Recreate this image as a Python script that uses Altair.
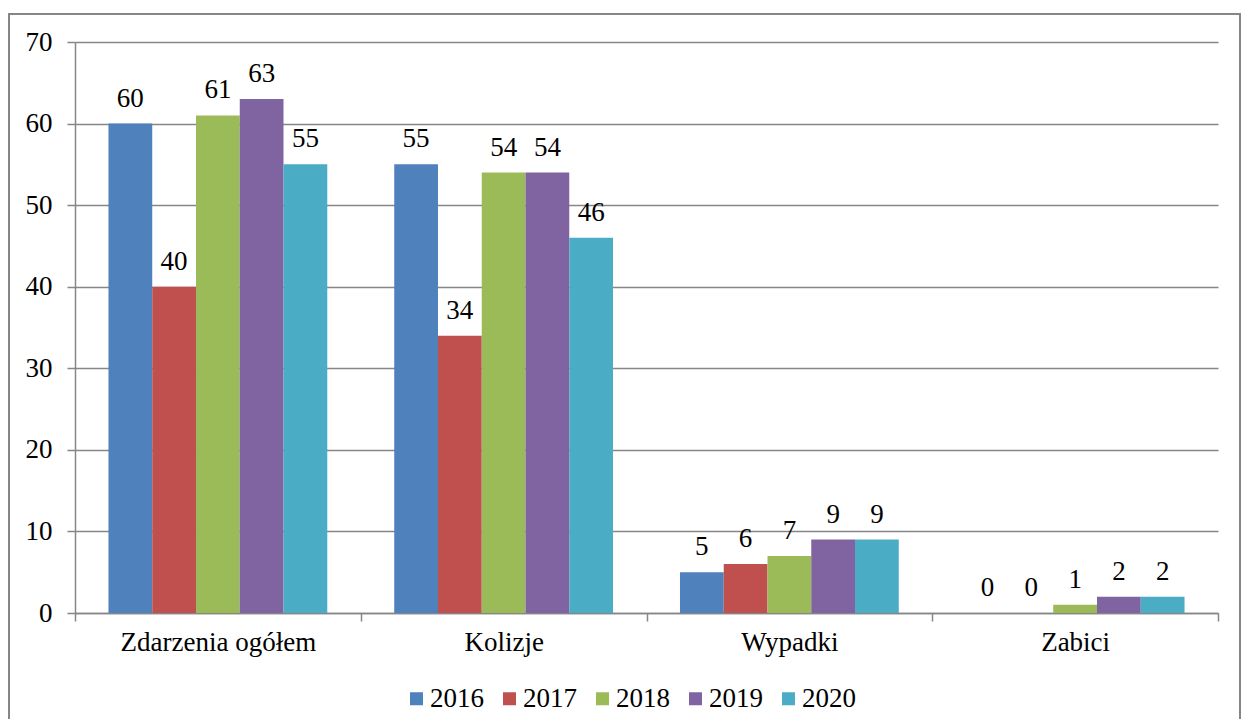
import altair as alt
import pandas as pd

categories = ["Zdarzenia ogółem", "Kolizje", "Wypadki", "Zabici"]
years = ["2016", "2017", "2018", "2019", "2020"]
values_2016 = [60, 55, 5, 0]
values_2017 = [40, 34, 6, 0]
values_2018 = [61, 54, 7, 1]
values_2019 = [63, 54, 9, 2]
values_2020 = [55, 46, 9, 2]
y_ticks = [0, 10, 20, 30, 40, 50, 60, 70]
colors = ["#4F81BD", "#C0504D", "#9BBB59", "#8064A2", "#4BACC6"]

rows = []
for yr, vals in zip(years, [values_2016, values_2017, values_2018, values_2019, values_2020]):
    for c, v in zip(categories, vals):
        rows.append({"Kategoria": c, "Rok": yr, "Wartosc": v})
df = pd.DataFrame(rows)

W, H = 1143, 571
FONT = "Liberation Serif"
FS = 27
GRAY = "#868686"

x = alt.X("Kategoria:N", sort=categories,
          scale=alt.Scale(paddingInner=0, paddingOuter=0),
          axis=alt.Axis(title=None, labelAngle=0, tickBand="extent", tickSize=8,
                        tickColor=GRAY, tickWidth=1.5, domainColor=GRAY, domainWidth=1.5,
                        labelFont=FONT, labelFontSize=FS, labelColor="black", labelLimit=0,
                        labelPadding=8, grid=False))
xo = alt.XOffset("Rok:N", sort=years, scale=alt.Scale(paddingInner=0, paddingOuter=0.765))
y = alt.Y("Wartosc:Q", scale=alt.Scale(domain=[0, 70], nice=False),
          axis=alt.Axis(title=None, values=y_ticks, tickSize=8, tickColor=GRAY, tickWidth=1.5,
                        domainColor=GRAY, domainWidth=1.5, gridColor=GRAY, gridWidth=1.5,
                        labelFont=FONT, labelFontSize=FS, labelColor="black", labelPadding=15))
color = alt.Color("Rok:N", sort=years, scale=alt.Scale(domain=years, range=colors),
                  legend=alt.Legend(title=None, orient="none", legendX=328, legendY=643,
                                    direction="horizontal", columns=5, symbolType="square",
                                    symbolSize=169, symbolStrokeWidth=0, labelFont=FONT,
                                    labelFontSize=FS, labelColor="black", labelOffset=0,
                                    columnPadding=12, padding=0))

bars = alt.Chart(df).mark_bar().encode(x=x, xOffset=xo, y=y, color=color)
labels = alt.Chart(df).mark_text(baseline="alphabetic", dy=-17, font=FONT, fontSize=FS,
                                 color="black").encode(x=x, xOffset=xo, y=y, text="Wartosc:Q")
frame = alt.Chart(alt.Data(values=[{"a": 1}])).mark_rect(
    fillOpacity=0, stroke=GRAY, strokeWidth=2).encode(
    x=alt.value(-66), x2=alt.value(W + 22), y=alt.value(-28), y2=alt.value(H + 200))

chart = alt.layer(frame, bars, labels).properties(
    width=W, height=H,
    padding={"left": 67, "top": 34, "right": 23, "bottom": 106},
    autosize=alt.AutoSizeParams(type="none"),
).configure(font=FONT).configure_view(stroke=None)

chart.save("out.html", embed_options={"renderer": "svg", "actions": False})
